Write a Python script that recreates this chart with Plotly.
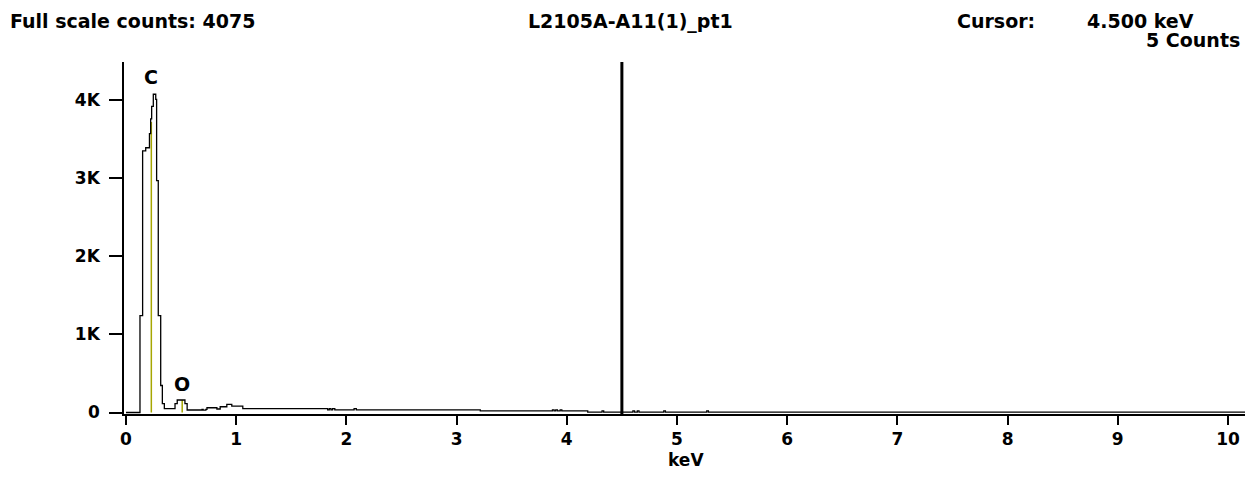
import plotly.graph_objects as go

# EDS spectrum (bin start in keV, counts; drawn as steps)
energy_kev = [0.0, 0.127, 0.151, 0.179, 0.213, 0.224, 0.233, 0.248, 0.270, 0.278,
              0.293, 0.315, 0.330, 0.348, 0.445, 0.465, 0.495, 0.535, 0.555, 0.690,
              0.700, 0.725, 0.735, 0.825, 0.855, 0.915, 0.960, 1.060, 1.830, 1.845,
              1.860, 1.875, 1.895, 2.070, 2.090, 3.200, 3.215, 3.870, 3.885, 3.900,
              3.915, 3.940, 3.955, 4.190, 4.320, 4.335, 4.600, 4.615, 4.640, 4.655,
              4.880, 4.895, 4.910, 5.270, 5.285, 10.23]
counts = [0, 1240, 3350, 3390, 3570, 3760, 3920, 4075, 4010, 2970,
          1240, 346, 115, 50, 115, 160, 160, 115, 32, 41,
          30, 41, 61, 45, 74, 105, 83, 50, 34, 50,
          34, 50, 34, 50, 34, 34, 20, 34, 20, 34,
          20, 34, 20, 5, 20, 5, 20, 5, 20, 5,
          20, 5, 5, 20, 5, 5]

# element markers
elements = ["C", "O"]
element_kev = [0.23, 0.51]
element_height = [3720, 160]
label_counts = [4300, 370]

cursor_kev = 4.5
full_scale = 4075

ytick_vals = [0, 1000, 2000, 3000, 4000]
ytick_text = ["0", "1K", "2K", "3K", "4K"]
xtick_vals = list(range(0, 11))

font_family = "DejaVu Sans"
marker_color = "#a6a600"

fig = go.Figure()

for el, ek, eh in zip(elements, element_kev, element_height):
    fig.add_trace(go.Scatter(x=[ek, ek], y=[0, eh], mode="lines",
                             line=dict(color=marker_color, width=1.5),
                             hoverinfo="skip", showlegend=False))

fig.add_trace(go.Scatter(x=energy_kev, y=counts, mode="lines",
                         line=dict(color="black", width=1.3, shape="hv"),
                         showlegend=False))

# cursor line
fig.add_shape(type="line", xref="x", yref="paper", x0=cursor_kev, x1=cursor_kev,
              y0=0, y1=1, line=dict(color="black", width=3))

for el, ek, lc in zip(elements, element_kev, label_counts):
    fig.add_annotation(x=ek, y=lc, text="<b>%s</b>" % el, showarrow=False,
                       font=dict(size=19, color="black", family=font_family))

# header row sits right at the top of the figure
hdr = dict(size=19, color="black", family=font_family)
top = 1.1534
fig.add_annotation(xref="paper", yref="paper", x=-0.103, y=top, xanchor="left",
                   yanchor="top", showarrow=False,
                   text="<b>Full scale counts: %d</b>" % full_scale, font=hdr)
fig.add_annotation(xref="paper", yref="paper", x=0.449, y=top, xanchor="center",
                   yanchor="top", showarrow=False,
                   text="<b>L2105A-A11(1)_pt1</b>", font=hdr)
fig.add_annotation(xref="paper", yref="paper", x=0.736, y=top, xanchor="left",
                   yanchor="top", showarrow=False, text="<b>Cursor:</b>", font=hdr)
fig.add_annotation(xref="paper", yref="paper", x=0.851, y=top, xanchor="left",
                   yanchor="top", showarrow=False,
                   text="<b>%.3f keV</b>" % cursor_kev, font=hdr)
fig.add_annotation(xref="paper", yref="paper", x=0.990, y=1.0625, xanchor="right",
                   yanchor="middle", showarrow=False, text="<b>5 Counts</b>", font=hdr)

# x axis title placed by hand under the tick labels
fig.add_annotation(xref="paper", yref="paper", x=0.498, y=-0.13, xanchor="center",
                   yanchor="middle", showarrow=False, text="<b>keV</b>",
                   font=dict(size=17, color="black", family=font_family))

# the page body adds an 8px margin, so the figure is 8px smaller than the window
fig.update_layout(
    width=1245, height=483,
    margin=dict(l=116, r=0, t=54, b=77),
    plot_bgcolor="white", paper_bgcolor="white",
    font=dict(family=font_family, color="black", size=17),
)

fig.update_xaxes(range=[-0.018, 10.227], tickvals=xtick_vals,
                 ticktext=["<b>%d</b>" % v for v in xtick_vals],
                 showgrid=False, zeroline=False, showline=True, linecolor="black",
                 linewidth=2, ticks="outside", ticklen=9, tickwidth=1.5,
                 tickcolor="black", tickfont=dict(size=17), automargin=False)
fig.update_yaxes(range=[-19, 4488], tickvals=ytick_vals,
                 ticktext=["<b>%s</b>" % t for t in ytick_text],
                 showgrid=False, zeroline=False, showline=True, linecolor="black",
                 linewidth=1.5, ticks="outside", ticklen=13, tickwidth=1.5,
                 tickcolor="black", tickfont=dict(size=17), ticklabelstandoff=6,
                 automargin=False)

fig.write_html("out.html")
